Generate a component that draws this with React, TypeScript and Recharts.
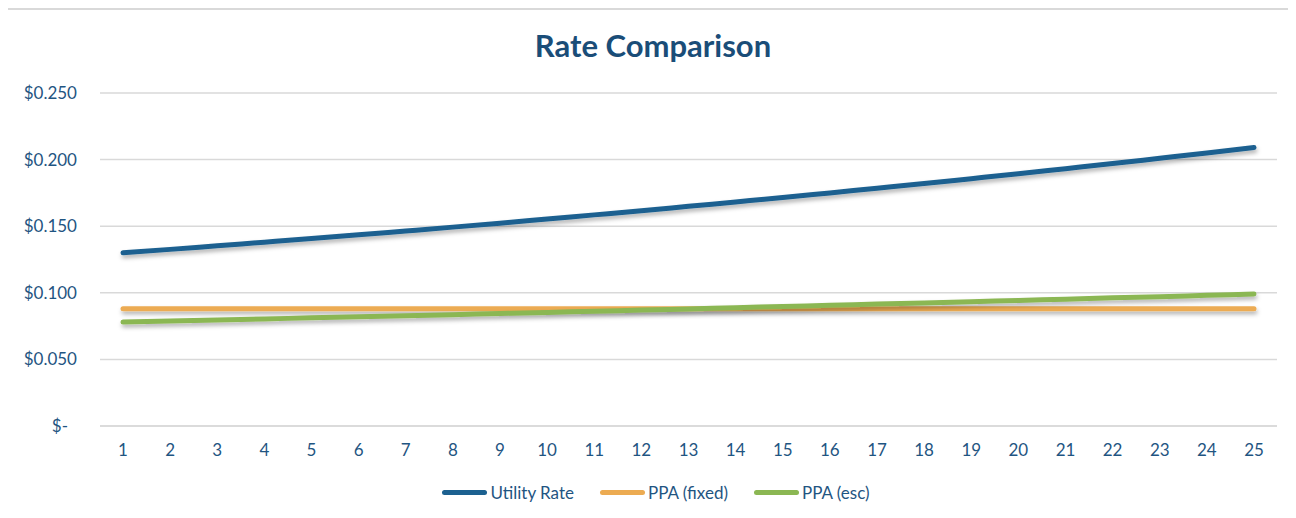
import { LineChart, Line, XAxis, YAxis, CartesianGrid } from "recharts";

const years = [1, 2, 3, 4, 5, 6, 7, 8, 9, 10, 11, 12, 13, 14, 15, 16, 17, 18, 19, 20, 21, 22, 23, 24, 25];

const utilityRate = [
  0.13, 0.1326, 0.1353, 0.138, 0.1407, 0.1435, 0.1464, 0.1493, 0.1523, 0.1554, 0.1585, 0.1616,
  0.1649, 0.1682, 0.1715, 0.175, 0.1785, 0.182, 0.1857, 0.1894, 0.1932, 0.197, 0.201, 0.205, 0.2091,
];

const ppaFixed = [
  0.088, 0.088, 0.088, 0.088, 0.088, 0.088, 0.088, 0.088, 0.088, 0.088, 0.088, 0.088, 0.088,
  0.088, 0.088, 0.088, 0.088, 0.088, 0.088, 0.088, 0.088, 0.088, 0.088, 0.088, 0.088,
];

const ppaEsc = [
  0.078, 0.0788, 0.0796, 0.0804, 0.0812, 0.082, 0.0828, 0.0836, 0.0845, 0.0853, 0.0862, 0.087,
  0.0879, 0.0888, 0.0897, 0.0906, 0.0915, 0.0924, 0.0933, 0.0943, 0.0952, 0.0962, 0.0971,
  0.0981, 0.0991,
];

const yTicks = [0, 0.05, 0.1, 0.15, 0.2, 0.25];

const series = [
  { key: "utility", name: "Utility Rate", color: "#1c6190" },
  { key: "fixed", name: "PPA (fixed)", color: "#ecab52" },
  { key: "esc", name: "PPA (esc)", color: "#8bb753" },
];

const data = years.map((y, i) => ({
  year: y,
  utility: utilityRate[i],
  fixed: ppaFixed[i],
  esc: ppaEsc[i],
}));

const TEXT = "#1f5582";
const FONT = "Lato, 'Open Sans', sans-serif";

const fmt = (v: number) => (v === 0 ? "$-" : `$${v.toFixed(3)}`);

const YTick = (props: any) => {
  const { x, y, payload } = props;
  const zero = payload.value === 0;
  return (
    <text x={zero ? x - 9 : x} y={y} dy="0.35em" textAnchor="end" fill={TEXT} fontSize={17} fontFamily={FONT}>
      {fmt(payload.value)}
    </text>
  );
};

export default function App() {
  return (
    <div style={{ position: "relative", width: 1296, height: 510, marginLeft: -8 }}>
      <div
        style={{
          position: "absolute",
          left: 5,
          top: 0,
          width: 1320,
          height: 540,
          border: "2px solid #d9d9d9",
          boxSizing: "border-box",
        }}
      />
      <div
        style={{
          position: "absolute",
          left: 0,
          top: 18,
          width: 1306,
          textAlign: "center",
          fontFamily: FONT,
          fontWeight: 700,
          fontSize: 31,
          color: "#1a4d78",
        }}
      >
        Rate Comparison
      </div>
      <div style={{ position: "absolute", left: 0, top: -8 }}>
        <LineChart width={1296} height={518} data={data} margin={{ top: 93, right: 19, bottom: 0, left: 0 }}>
          <defs>
            <filter id="lineShadow" filterUnits="userSpaceOnUse" x="0" y="0" width="1296" height="518">
              <feDropShadow dx="1" dy="3" stdDeviation="2" floodColor="#000" floodOpacity="0.3" />
            </filter>
          </defs>
          <CartesianGrid vertical={false} stroke="#d9d9d9" strokeWidth={1.5} />
          <XAxis
            dataKey="year"
            padding={{ left: 23, right: 23 }}
            height={92}
            tickLine={false}
            tickSize={0}
            tickMargin={18}
            axisLine={{ stroke: "#d9d9d9", strokeWidth: 1.5 }}
            tick={{ fill: TEXT, fontSize: 17, fontFamily: FONT }}
            interval={0}
          />
          <YAxis
            width={100}
            domain={[0, 0.25]}
            ticks={yTicks}
            axisLine={false}
            tickLine={false}
            tickSize={0}
            tickMargin={23}
            tick={<YTick />}
          />
          {series.map((s) => (
            <Line
              key={s.key}
              type="monotone"
              dataKey={s.key}
              name={s.name}
              stroke={s.color}
              strokeWidth={5}
              strokeLinecap="round"
              dot={false}
              filter="url(#lineShadow)"
              isAnimationActive={false}
            />
          ))}
        </LineChart>
      </div>
      <div
        style={{
          position: "absolute",
          left: 0,
          top: 474,
          width: 1312,
          display: "flex",
          justifyContent: "center",
          gap: 26,
          fontFamily: FONT,
          fontSize: 17,
          color: TEXT,
        }}
      >
        {series.map((s) => (
          <div key={s.key} style={{ display: "flex", alignItems: "center" }}>
            <span
              style={{
                display: "inline-block",
                width: 45,
                height: 5,
                borderRadius: 3,
                background: s.color,
                marginRight: 3,
              }}
            />
            <span>{s.name}</span>
          </div>
        ))}
      </div>
    </div>
  );
}
